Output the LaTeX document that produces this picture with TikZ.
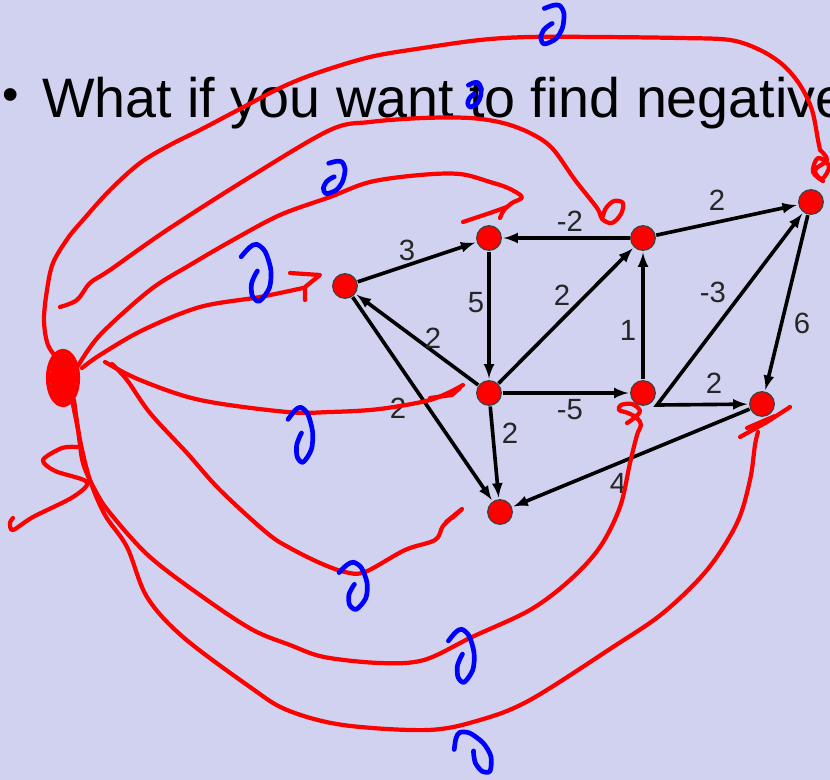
\documentclass[tikz,border=0pt]{standalone}
\usepackage{fontspec}
\setmainfont{Liberation Sans}
\definecolor{fond}{RGB}{208,210,239}

\begin{document}
\begin{tikzpicture}[x=0.3mm,y=-0.3mm]
	% Styles
	\tikzstyle{fleche}=[->,>=latex,line width=3.1pt,shorten >=1.5pt,shorten <=0.5pt]
	\tikzstyle{sommet}=[circle,fill=red,draw=black!75,line width=1pt,minimum size=7.4mm,inner sep=0pt]
	\tikzstyle{poids}=[inner sep=0pt,text=black!85,font=\fontsize{25}{25}\selectfont]
	\tikzstyle{trace}=[red,line width=3.6pt,line cap=round,line join=round]
	\tikzstyle{zero}=[blue,line width=4pt,line cap=round,line join=round]
	% Zero manuscrit : centre, taille, aplatissement, rotation
	\def\Zero(#1)#2#3#4{\draw[zero,shift={(#1)},rotate=#4,scale=#2,xscale=#3] plot[smooth] coordinates {(-0.83,-0.56) (-0.42,-0.88) (-0.07,-0.99) (0.35,-0.74) (0.63,-0.11) (0.56,0.51) (0.07,0.97) (-0.28,0.79) (-0.32,0.38) (-0.14,0.06) (-0.03,-0.07)};}
	% Fond
	\fill[fond] (0,0) rectangle (830,780);
	\clip (0,0) rectangle (830,780);
	% Titre
	\node[inner sep=0pt,font=\fontsize{40}{40}\selectfont] (puce) at (11,100) {\textbullet};
	\node[anchor=base west,inner sep=0pt,font=\fontsize{47.5}{50}\selectfont] (titre) at (42,118) {What if you want to find negative};
	% Sommets
	\node[sommet] (A) at (345,286) {};
	\node[sommet] (B) at (489,238) {};
	\node[sommet] (C) at (643,238) {};
	\node[sommet] (D) at (811,202) {};
	\node[sommet] (E) at (489,393) {};
	\node[sommet] (F) at (643,393) {};
	\node[sommet] (G) at (762,404) {};
	\node[sommet] (H) at (500,512) {};
	\coordinate (Fk) at (657,405);
	% Arcs
	\draw[fleche] (A) -- (B);
	\draw[fleche] (C) -- (B);
	\draw[fleche] (C) -- (D);
	\draw[fleche] (B) -- (E);
	\draw[fleche] (E) -- (C);
	\draw[fleche] (F) -- (C);
	\draw[fleche] (E) -- (A);
	\draw[fleche] (A) -- (H);
	\draw[fleche] (E) -- (F);
	\draw[fleche] (E) -- (H);
	\draw[fleche,<->,shorten <=1.5pt] (D) -- (Fk) -- (G);
	\draw[fleche] (D) -- (G);
	\draw[fleche] (G) -- (H);
	% Poids
	\node[poids] (p1) at (407,250) {3};
	\node[poids] (p2) at (570,221) {-2};
	\node[poids] (p3) at (717,200) {2};
	\node[poids] (p4) at (476,303) {5};
	\node[poids] (p5) at (562,295) {2};
	\node[poids] (p6) at (628,330) {1};
	\node[poids] (p7) at (713,292) {-3};
	\node[poids] (p8) at (802,323) {6};
	\node[poids] (p9) at (433,338) {2};
	\node[poids] (p10) at (398,408) {2};
	\node[poids] (p11) at (570,410) {-5};
	\node[poids] (p12) at (510,433) {2};
	\node[poids] (p13) at (714,383) {2};
	\node[poids] (p14) at (618,483) {4};
	% Traces rouges
	\fill[red] (63,378) ellipse (13 and 25);
	\draw[trace] (63,378) ellipse (15 and 27);
	\draw[trace] plot[smooth,tension=0.55] coordinates {(60,362) (48,345) (44,320) (47,290) (53,263) (68,238) (83,220) (110,190) (140,163) (170,145) (200,130) (238,110) (280,88) (317,73) (370,57) (423,48) (480,40) (529,37) (600,37) (680,38) (730,40) (760,50) (783,65) (800,85) (812,110) (818,140) (820,150)};
	\draw[trace] plot[smooth,tension=0.6] coordinates {(820,150) (827,160) (815,170) (822,179) (829,166) (818,158) (813,172) (823,181)};
	\draw[trace] plot[smooth,tension=0.55] coordinates {(60,307) (77,300) (90,283) (110,270) (167,230) (250,177) (330,130) (370,122) (423,118) (470,118) (503,123) (530,133) (552,148) (575,180) (597,208) (602,219) (612,223) (621,214) (623,203) (614,201) (606,208) (603,216)};
	\draw[trace] plot[smooth,tension=0.55] coordinates {(78,366) (100,335) (150,290) (190,265) (233,240) (280,215) (330,197) (370,182) (420,175) (460,174) (490,182) (508,188) (522,197) (512,203) (504,210) (500,218)};
	\draw[trace] (463,222) -- (490,213) -- (507,207);
	\draw[trace] plot[smooth,tension=0.55] coordinates {(82,368) (100,355) (143,330) (200,307) (260,297) (303,288)};
	\draw[trace] (290,273) -- (320,275) -- (305,287) -- (305,300);
	\draw[trace] plot[smooth,tension=0.55] coordinates {(105,362) (140,380) (200,400) (287,412) (330,412) (370,410) (400,406) (430,400) (450,392) (463,385)};
	\draw[trace] (430,398) -- (452,395) -- (460,388);
	\draw[trace] plot[smooth,tension=0.55] coordinates {(112,364) (127,380) (150,413) (187,453) (220,490) (267,533) (290,548) (320,563) (345,572) (365,572) (405,550) (435,540) (443,526) (455,515) (461,510)};
	\draw[trace] (446,522) -- (462,509) -- (452,518);
	\draw[trace] plot[smooth,tension=0.55] coordinates {(72,400) (78,430) (83,463) (95,490) (110,513) (150,557) (207,600) (253,630) (290,645) (324,657) (380,663) (424,660) (472,637) (530,610) (570,580) (600,547) (620,507) (630,463) (637,435) (641,425) (637,418) (628,413) (619,410) (621,405) (632,404) (640,411) (633,419) (627,423)};
	\draw[trace] plot[smooth,tension=0.55] coordinates {(74,400) (80,440) (90,480) (105,515) (127,547) (147,597) (183,637) (250,687) (287,710) (343,725) (428,730) (480,720) (530,700) (613,647) (663,613) (707,570) (737,523) (750,480) (755,445) (758,432)};
	\draw[trace] (740,437) -- (767,422) -- (790,407);
	\draw[trace] (747,428) -- (775,416);
	% Gribouillis a gauche
	\draw[trace] plot[smooth,tension=0.5] coordinates {(77,447) (62,448) (43,460) (55,471) (87,482) (73,497) (33,517) (13,530) (10,523) (13,518)};
	% Zeros bleus
	\Zero(552,25){21}{0.8}{-25}
	\Zero(474,95){13}{0.8}{-20}
	\Zero(334,178){18}{0.8}{-30}
	\Zero(258,273){29}{0.7}{0}
	\Zero(302,435){28}{0.6}{0}
	\Zero(355,586){24}{0.8}{0}
	\Zero(463,656){27}{0.65}{0}
	\Zero(475,752){25}{0.75}{35}
\end{tikzpicture}
\end{document}
